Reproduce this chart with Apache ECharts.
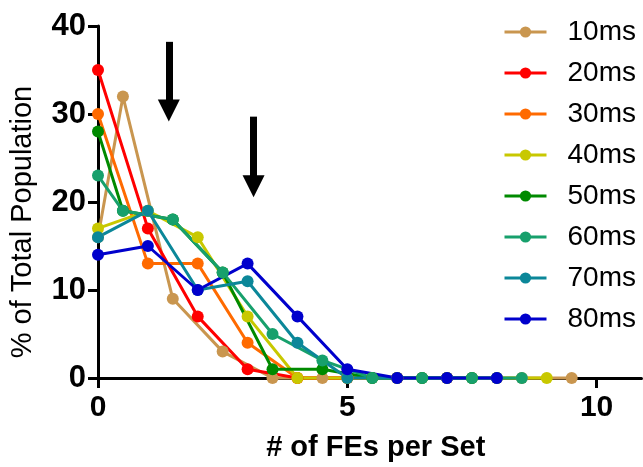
<!DOCTYPE html>
<html>
<head>
<meta charset="utf-8">
<script src="https://cdn.jsdelivr.net/npm/echarts@6/dist/echarts.min.js"></script>
<style>
  html, body { margin: 0; padding: 0; background: #fff; }
  #chart { width: 643px; height: 467px; }
</style>
</head>
<body>
<div id="chart"></div>
<script>
// Bin positions: some exposure sets are sampled on whole numbers, others on half steps
const xWhole = [0, 1, 2, 3, 4, 5, 6, 7, 8, 9];
const xHalf = [0, 0.5, 1.5, 2.5, 3.5, 4.5, 5.5, 6.5, 7.5, 8.5, 9.5];

// % of total population per number of FEs in a set
const pop10 = [16, 32, 9, 3, 0, 0, 0, 0, 0, 0, 0];      // on xHalf
const pop20 = [35, 17, 7, 1, 0, 0, 0, 0];               // on xWhole
const pop30 = [30, 13, 13, 4, 0, 0, 0, 0, 0];           // on xWhole
const pop40 = [17, 19, 16, 7, 0, 0, 0, 0, 0, 0];        // on xWhole
const pop50 = [28, 19, 18, 12, 1, 1, 0, 0, 0];          // on xHalf
const pop60 = [23, 19, 18, 12, 5, 2, 0, 0, 0, 0];       // on xHalf
const pop70 = [16, 19, 10, 11, 4, 0, 0, 0, 0];          // on xWhole
const pop80 = [14, 15, 10, 13, 7, 1, 0, 0, 0];          // on xWhole

const seriesNames = ['10ms', '20ms', '30ms', '40ms', '50ms', '60ms', '70ms', '80ms'];
const seriesX = [xHalf, xWhole, xWhole, xWhole, xHalf, xHalf, xWhole, xWhole];
const seriesY = [pop10, pop20, pop30, pop40, pop50, pop60, pop70, pop80];
const seriesColors = ['#c9964f', '#ff0000', '#ff6a00', '#c8c800', '#008a00', '#17a06c', '#0b8799', '#0000cc'];

// Tick labels
const xTicks = [0, 5, 10];
const yTicks = [0, 10, 20, 30, 40];

// Down arrows pointing at the two peaks: [x, from y, to y] in data units
const arrow1 = [1.42, 38.2, 30.4];
const arrow2 = [3.12, 29.7, 21.8];

const font = "'Liberation Sans', Arial, sans-serif";

const chart = echarts.init(document.getElementById('chart'), null, { renderer: 'canvas' });

const lineSeries = seriesNames.map((name, i) => ({
  name: name,
  type: 'line',
  data: seriesY[i].map((v, k) => [seriesX[i][k], v]),
  symbol: 'circle',
  symbolSize: 12,
  showSymbol: true,
  lineStyle: { width: 3, color: seriesColors[i] },
  itemStyle: { color: seriesColors[i] },
  emphasis: { disabled: true },
  clip: false
}));

const arrowSeries = {
  name: 'arrows',
  type: 'line',
  data: [],
  silent: true,
  markLine: {
    silent: true,
    animation: false,
    symbol: ['none', 'triangle'],
    symbolSize: 22,
    label: { show: false },
    lineStyle: { color: '#000', width: 7, type: 'solid' },
    emphasis: { disabled: true },
    data: [
      [{ coord: [arrow1[0], arrow1[1]] }, { coord: [arrow1[0], arrow1[2]] }],
      [{ coord: [arrow2[0], arrow2[1]] }, { coord: [arrow2[0], arrow2[2]] }]
    ]
  }
};

chart.setOption({
  animation: false,
  backgroundColor: '#fff',
  grid: { left: 97, right: 1.5, top: 26, bottom: 83, containLabel: false },
  legend: {
    data: seriesNames,
    orient: 'vertical',
    left: 498,
    top: 13,
    itemWidth: 42,
    itemHeight: 14,
    itemGap: 13,
    lineStyle: { width: 3 },
    textStyle: { fontFamily: font, fontSize: 28, color: '#000', padding: [0, 0, 0, 16] },
    selectedMode: false
  },
  xAxis: {
    type: 'value',
    min: 0,
    max: 10.9,
    interval: 5,
    name: '# of FEs per Set',
    nameLocation: 'middle',
    nameGap: 55,
    nameTextStyle: { fontFamily: font, fontSize: 29, fontWeight: 'bold', color: '#000', padding: [0, 0, 0, 12] },
    axisLine: { show: true, onZero: false, lineStyle: { color: '#000', width: 3 } },
    axisTick: { show: true, length: 10, lineStyle: { color: '#000', width: 3 }, customValues: xTicks },
    axisLabel: { fontFamily: font, fontSize: 30, fontWeight: 'bold', color: '#000', margin: 15, customValues: xTicks },
    splitLine: { show: false }
  },
  yAxis: {
    type: 'value',
    min: 0,
    max: 40,
    interval: 10,
    name: '% of Total Population',
    nameLocation: 'middle',
    nameGap: 61,
    nameTextStyle: { fontFamily: font, fontSize: 29, color: '#000', padding: [0, 40, 0, 0] },
    axisLine: { show: true, onZero: false, lineStyle: { color: '#000', width: 3 } },
    axisTick: { show: true, length: 10, lineStyle: { color: '#000', width: 3 }, customValues: yTicks },
    axisLabel: { fontFamily: font, fontSize: 31, fontWeight: 'bold', color: '#000', margin: 12, customValues: yTicks },
    splitLine: { show: false }
  },
  series: lineSeries.concat([arrowSeries])
});
</script>
</body>
</html>
